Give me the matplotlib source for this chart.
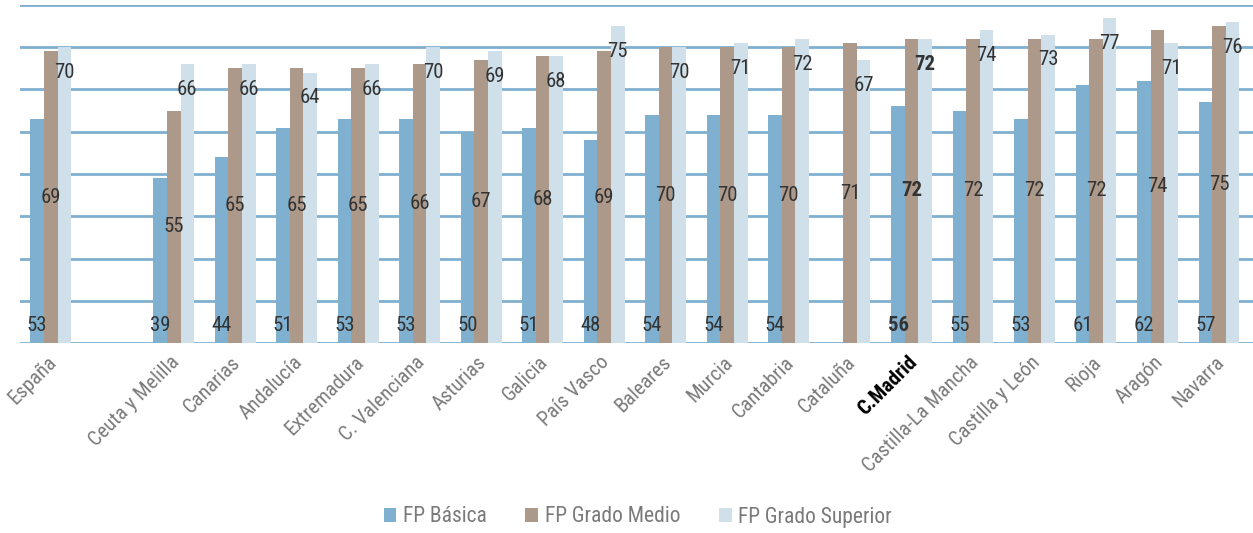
import numpy as np
import matplotlib.pyplot as plt
from matplotlib import font_manager
from matplotlib.font_manager import FontProperties
from matplotlib.textpath import TextPath

# regiones ('' = hueco entre España y el resto)
regions = ['España', '', 'Ceuta y Melilla', 'Canarias', 'Andalucía', 'Extremadura',
           'C. Valenciana', 'Asturias', 'Galicia', 'País Vasco', 'Baleares', 'Murcia',
           'Cantabria', 'Cataluña', 'C.Madrid', 'Castilla-La Mancha', 'Castilla y León',
           'Rioja', 'Aragón', 'Navarra']
basica = [53, np.nan, 39, 44, 51, 53, 53, 50, 51, 48, 54, 54, 54, np.nan, 56, 55, 53, 61, 62, 57]
medio = [69, np.nan, 55, 65, 65, 65, 66, 67, 68, 69, 70, 70, 70, 71, 72, 72, 72, 72, 74, 75]
superior = [70, np.nan, 66, 66, 64, 66, 70, 69, 68, 75, 70, 71, 72, 67, 72, 74, 73, 77, 71, 76]
series_names = ['FP Básica', 'FP Grado Medio', 'FP Grado Superior']
highlight = 'C.Madrid'

# fuente estrecha parecida a la del original
names = {f.name for f in font_manager.fontManager.ttflist}
font = 'DejaVu Sans'
for cand in ['Liberation Sans Narrow', 'Roboto Condensed', 'PT Sans Narrow',
             'IBM Plex Sans Condensed', 'Fira Sans Condensed']:
    if cand in names:
        font = cand
        break
plt.rcParams['font.family'] = [font, 'DejaVu Sans']


def size_w(s, target_px):
    fp = FontProperties(family=[font, 'DejaVu Sans'])
    wpt = TextPath((0, 0), s, size=10, prop=fp).get_extents().width
    return 10 * target_px / (wpt * 100 / 72)


def size_h(s, target_px):
    fp = FontProperties(family=[font, 'DejaVu Sans'])
    hpt = TextPath((0, 0), s, size=10, prop=fp).get_extents().height
    return 10 * target_px / (hpt * 100 / 72)


val_size = size_h('5', 15)
leg_size = (size_h('F', 14) + size_w('FP Grado Superior', 165)) / 2
lab_size = size_w('Castilla-La Mancha', 152)

colors = ['#80B0CF', '#AD9989', '#CFE0EA']
grid_color = '#7FB0D0'
txt_color = '#333333'
lab_color = '#7A7A7A'

fig = plt.figure(figsize=(12.53, 5.33), dpi=100)
ax = fig.add_axes([20 / 1253, 1 - 343 / 533, 1 - 20 / 1253, 338 / 533])

x = np.arange(len(regions))
w = 0.22
data = [basica, medio, superior]
for i, vals in enumerate(data):
    ax.bar(x + (i - 1) * w, vals, width=w, color=colors[i], label=series_names[i], zorder=2)

# etiquetas de valores
for j in range(len(regions)):
    bold = 'bold' if regions[j] == highlight else 'normal'
    if not np.isnan(basica[j]):
        ax.text(x[j] - w, 4.2, f'{basica[j]:.0f}', ha='center', va='center',
                fontsize=val_size, color=txt_color, fontweight=bold, zorder=3)
    if not np.isnan(medio[j]):
        ax.text(x[j], medio[j] / 2, f'{medio[j]:.0f}', ha='center', va='center',
                fontsize=val_size, color=txt_color, fontweight=bold, zorder=3)
    if not np.isnan(superior[j]):
        ax.text(x[j] + w, superior[j] - 6, f'{superior[j]:.0f}', ha='center', va='center',
                fontsize=val_size, color=txt_color, fontweight=bold, zorder=3)

ax.set_xlim(-0.5, 19.55)
ax.set_ylim(0, 80)
ax.set_yticks(range(0, 81, 10))
ax.yaxis.grid(True, color=grid_color, lw=2, zorder=0)
ax.set_axisbelow(True)
ax.tick_params(axis='both', length=0, labelleft=False)
for s in ax.spines.values():
    s.set_visible(False)

ax.set_xticks(x - 0.07)
ax.set_xticklabels(regions, rotation=45, ha='right', va='top', rotation_mode='anchor',
                   fontsize=lab_size, color=lab_color)
for t in ax.get_xticklabels():
    if t.get_text() == highlight:
        t.set_color('black')
        t.set_fontweight('bold')
ax.tick_params(axis='x', pad=7)

ax.legend(loc='center', bbox_to_anchor=(0.509, 1 - 517 / 533), bbox_transform=fig.transFigure,
          ncol=3, frameon=False, fontsize=leg_size, labelcolor=lab_color, handlelength=0.6,
          handleheight=0.6, handletextpad=0.3, columnspacing=1.8)

fig.savefig('out.png', dpi=100)
